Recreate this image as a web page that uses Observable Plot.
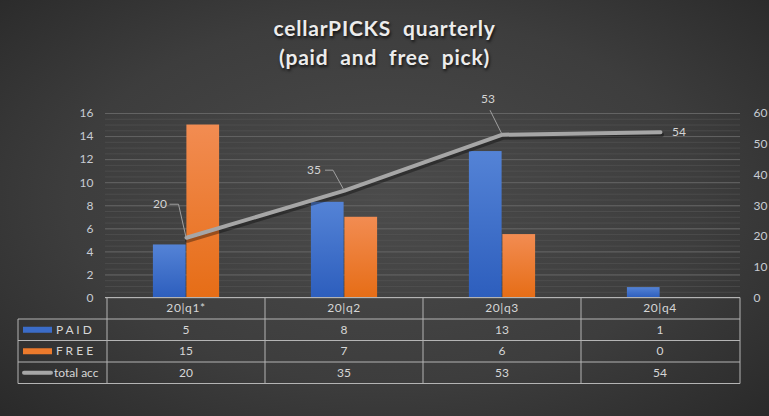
<!DOCTYPE html>
<html><head><meta charset="utf-8">
<script src="https://cdn.jsdelivr.net/npm/d3@7"></script>
<script src="https://cdn.jsdelivr.net/npm/@observablehq/plot@0.6"></script>
<style>
html,body{margin:0;padding:0;width:769px;height:416px;overflow:hidden;}
body{background: radial-gradient(ellipse 75% 80% at 50% 48%, #4b4b4b 0%, #3d3d3d 55%, #262626 100%);}
#title{box-sizing:border-box;height:80px;padding-top:13px;text-align:center;color:#ececec;font:bold 21px Lato, sans-serif;line-height:29px;word-spacing:6px;letter-spacing:0.8px;text-shadow:1px 2px 3px rgba(0,0,0,.75);}
#chart svg{display:block;}
</style></head>
<body>
<div id="title">cellarPICKS quarterly<br>(paid and free pick)</div>
<div id="chart"></div>
<script>
const quarters = ["20|q1*", "20|q2", "20|q3", "20|q4"];
const paid = [4.6, 8.3, 12.7, 0.9];
const free = [15, 7.0, 5.5, 0];
const total = [19.6, 34.9, 53.1, 53.9];
const paidTable = [5, 8, 13, 1];
const freeTable = [15, 7, 6, 0];
const totalTable = [20, 35, 53, 54];
const leftTicks = [0, 2, 4, 6, 8, 10, 12, 14, 16];
const rightTicks = [0, 10, 20, 30, 40, 50, 60];
const seriesNames = ["P A I D", "F R E E", "total acc"];

// styling / layout constants
const rightMax = 60, leftMax = 16, k = leftMax / rightMax;
const colors = {paid: "#3b6cc8", free: "#ec7a2c", total: "#a6a6a6"};
const labelStyle = [
  {dx: -26, dy: -33, anchor: "middle", leader: [[-7.5, -33], [-16.5, -33]]},
  {dx: -30, dy: -20, anchor: "middle", leader: [[-11, -20], [-19, -20]]},
  {dx: -14, dy: -35, anchor: "middle", leader: [[-12, -24]]},
  {dx: 12, dy: 0, anchor: "start", leader: null}
];

const rows = quarters.map((q, i) => ({q, paid: paid[i], free: free[i], total: total[i], i}));
const minorTicks = d3.range(0, leftMax + 0.001, 0.5);

function bandOf(x, dims) {
  if (typeof x.bandwidth === "function") return x.bandwidth();
  if (typeof x.bandwidth === "number") return x.bandwidth;
  return (dims.width - dims.marginLeft - dims.marginRight) / quarters.length;
}

function defsMark() {
  const defs = d3.create("svg:defs");
  const mk = (id, top, bottom) => {
    const g = defs.append("linearGradient").attr("id", id).attr("x1", 0).attr("y1", 0).attr("x2", 0).attr("y2", 1);
    g.append("stop").attr("offset", "0%").attr("stop-color", top);
    g.append("stop").attr("offset", "100%").attr("stop-color", bottom);
  };
  mk("gPaid", "#5483d6", "#2d5ebd");
  mk("gFree", "#f28c52", "#e66d16");
  return defs.node();
}

function labelsMark(index, scales, values, dims) {
  const x = scales.x, y = scales.y, bw = bandOf(x, dims);
  const g = d3.create("svg:g").attr("font-family", "Lato, sans-serif").attr("font-size", 12);
  rows.forEach((r, i) => {
    const px = x(r.q) + bw / 2, py = y(r.total * k), s = labelStyle[i];
    if (s.leader) {
      const pts = [[px, py], ...s.leader.map(([a, b]) => [px + a, py + b])];
      g.append("path").attr("d", d3.line()(pts)).attr("fill", "none").attr("stroke", "#a0a0a0").attr("stroke-width", 1);
    }
    g.append("text").attr("x", px + s.dx).attr("y", py + s.dy).attr("dy", "0.35em")
      .attr("text-anchor", s.anchor).attr("fill", "#d4d4d4").text(totalTable[i]);
  });
  return g.node();
}

function tableMark(index, scales, values, dims) {
  const x = scales.x, y = scales.y, bw = bandOf(x, dims);
  const top = y(0), rh = 21.5;
  const left = dims.marginLeft, right = dims.width - dims.marginRight, outer = 18;
  const g = d3.create("svg:g").attr("font-family", "Lato, sans-serif").attr("font-size", 12);
  const line = "#b4b4b4";
  g.append("line").attr("x1", left).attr("x2", right).attr("y1", top).attr("y2", top).attr("stroke", line);
  for (let r = 1; r <= 4; r++) {
    g.append("line").attr("x1", outer).attr("x2", right).attr("y1", top + r * rh).attr("y2", top + r * rh).attr("stroke", line);
  }
  g.append("line").attr("x1", outer).attr("x2", outer).attr("y1", top + rh).attr("y2", top + 4 * rh).attr("stroke", line);
  quarters.forEach(q => {
    const xx = x(q);
    g.append("line").attr("x1", xx).attr("x2", xx).attr("y1", top).attr("y2", top + 4 * rh).attr("stroke", line);
  });
  g.append("line").attr("x1", right).attr("x2", right).attr("y1", top).attr("y2", top + 4 * rh).attr("stroke", line);
  const tables = [paidTable, freeTable, totalTable];
  quarters.forEach((q, i) => {
    const cx = x(q) + bw / 2;
    g.append("text").attr("x", cx).attr("y", top + rh / 2).attr("dy", "0.35em").attr("text-anchor", "middle").attr("letter-spacing", "0.6px").attr("fill", "#d6d6d6").text(q);
    tables.forEach((t, r) => {
      g.append("text").attr("x", cx).attr("y", top + (r + 1.5) * rh).attr("dy", "0.35em").attr("text-anchor", "middle").attr("fill", "#d6d6d6").text(t[i]);
    });
  });
  const swatch = [colors.paid, colors.free, colors.total];
  seriesNames.forEach((name, r) => {
    const cy = top + (r + 1.5) * rh;
    if (r < 2) {
      g.append("rect").attr("x", 23).attr("y", cy - 3).attr("width", 29).attr("height", 6).attr("fill", swatch[r]);
      g.append("text").attr("x", 56).attr("y", cy).attr("dy", "0.35em").attr("text-anchor", "start").attr("fill", "#d6d6d6").text(name);
    } else {
      g.append("line").attr("x1", 24).attr("x2", 51).attr("y1", cy).attr("y2", cy).attr("stroke", swatch[r]).attr("stroke-width", 4).attr("stroke-linecap", "round");
      g.append("text").attr("x", 54).attr("y", cy).attr("dy", "0.35em").attr("text-anchor", "start").attr("fill", "#d6d6d6").text(name);
    }
  });
  return g.node();
}

const plot = Plot.plot({
  width: 769,
  height: 336,
  marginTop: 33,
  marginBottom: 118.5,
  marginLeft: 105,
  marginRight: 29,
  style: {background: "transparent", fontFamily: "Lato, sans-serif", fontSize: "12px", color: "#c8ccd3", overflow: "visible"},
  x: {domain: quarters, padding: 0, axis: null},
  y: {domain: [0, leftMax], axis: null},
  marks: [
    defsMark,
    Plot.gridY(minorTicks, {stroke: "#575757", strokeOpacity: 0.55}),
    Plot.gridY(leftTicks, {stroke: "#636363", strokeOpacity: 1}),
    Plot.axisY(leftTicks, {anchor: "left", tickSize: 0, tickPadding: 12, fill: "#c8ccd3", fontSize: 12}),
    Plot.axisY(rightTicks.map(v => v * k), {anchor: "right", tickSize: 0, tickPadding: 13, fill: "#c8ccd3", fontSize: 12, tickFormat: d => Math.round(d / k)}),
    Plot.barY(rows, {x: "q", y: "paid", fill: "url(#gPaid)", insetLeft: 45.9, insetRight: 79.4}),
    Plot.barY(rows, {x: "q", y: "free", fill: "url(#gFree)", insetLeft: 79.4, insetRight: 45.9}),
    Plot.line(rows, {x: "q", y: d => d.total * k, stroke: "#000", strokeOpacity: 0.35, strokeWidth: 5, dy: 2.5, dx: 1, strokeLinecap: "round"}),
    Plot.line(rows, {x: "q", y: d => d.total * k, stroke: colors.total, strokeWidth: 4, strokeLinecap: "round"}),
    labelsMark,
    tableMark
  ]
});
document.getElementById("chart").appendChild(plot);
</script>
</body></html>
